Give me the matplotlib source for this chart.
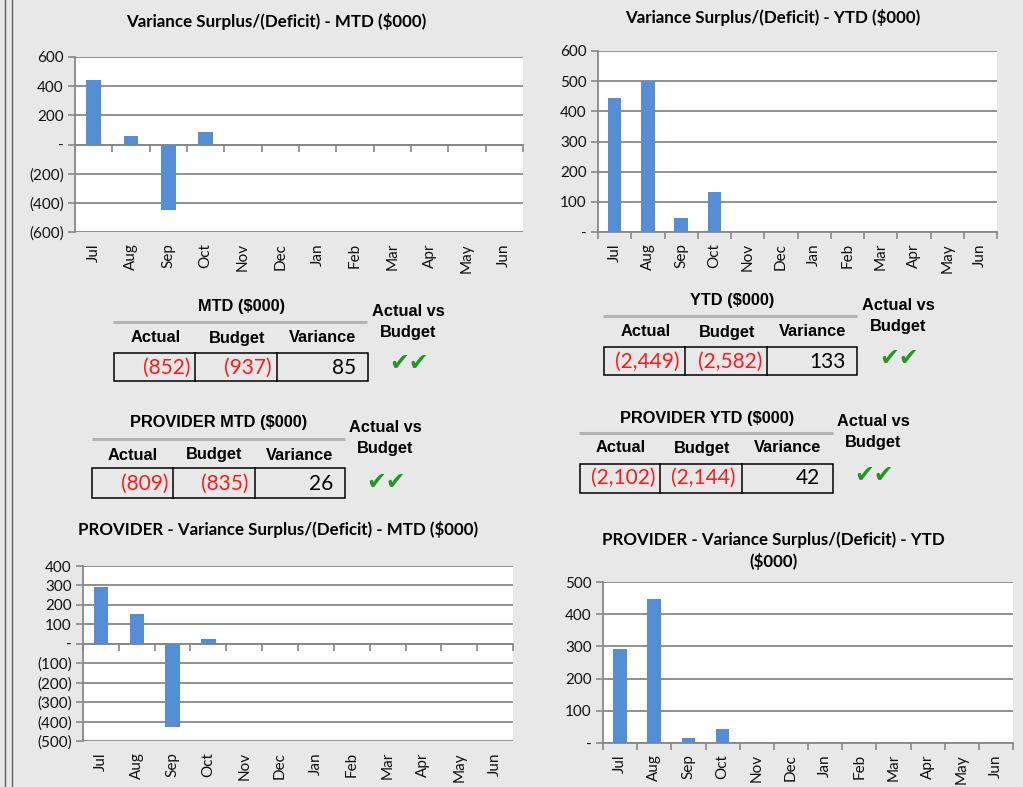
import matplotlib

matplotlib.use("Agg")
import matplotlib.pyplot as plt
from matplotlib.patches import Rectangle
from matplotlib.ticker import FuncFormatter, MultipleLocator

W, H = 1023, 787

MONTHS = ["Jul", "Aug", "Sep", "Oct", "Nov", "Dec", "Jan", "Feb", "Mar", "Apr", "May", "Jun"]

# variance surplus/(deficit) $000, only Jul-Oct reported so far
MTD_VAR = [445, 55, -452, 85]
YTD_VAR = [445, 500, 48, 133]
PROV_MTD_VAR = [291, 155, -430, 26]
PROV_YTD_VAR = [291, 446, 16, 42]

# summary tables: actual, budget, variance
MTD_TABLE = ["(852)", "(937)", "85"]
YTD_TABLE = ["(2,449)", "(2,582)", "133"]
PROV_MTD_TABLE = ["(809)", "(835)", "26"]
PROV_YTD_TABLE = ["(2,102)", "(2,144)", "42"]
TABLE_COLS = ["Actual", "Budget", "Variance"]

BG = "#e8e8e8"
BAR = "#558ed5"
GRID = "#888888"
CHART_FONT = "Lato"
TABLE_FONT = "Liberation Sans"


def px_rect(x0, y0, x1, y1):
    return [x0 / W, 1 - y1 / H, (x1 - x0) / W, (y1 - y0) / H]


def fmt_acct(v, _pos=None):
    if abs(v) < 1e-9:
        return "-"
    if v < 0:
        return f"({abs(v):,.0f})"
    return f"{v:,.0f}"


def bar_chart(fig, rect, values, ymin, ymax, step):
    ax = fig.add_axes(px_rect(*rect))
    ax.set_facecolor("white")
    ax.bar(range(len(values)), values, width=0.4, color=BAR, zorder=3)
    ax.set_xlim(-0.5, len(MONTHS) - 0.5)
    ax.set_ylim(ymin, ymax)
    ax.yaxis.set_major_locator(MultipleLocator(step))
    ax.yaxis.set_major_formatter(FuncFormatter(fmt_acct))
    ax.grid(axis="y", color=GRID, lw=1.3, zorder=1)
    for s in ("top", "right"):
        ax.spines[s].set_visible(False)
    ax.spines["left"].set_color(GRID)
    ax.spines["left"].set_linewidth(1.3)
    ax.spines["bottom"].set_color(GRID)
    ax.spines["bottom"].set_linewidth(1.3)
    ax.spines["bottom"].set_position(("data", 0))
    # category boundary ticks on the zero line
    ax.set_xticks([i - 0.5 for i in range(len(MONTHS) + 1)])
    ax.set_xticklabels([])
    ax.tick_params(axis="x", length=5, color=GRID, width=1.2, direction="out")
    ax.tick_params(axis="y", length=5, color=GRID, width=1.2, pad=3,
                   labelsize=11, labelcolor="#111111")
    for t in ax.get_yticklabels():
        t.set_family(CHART_FONT)
    sec = ax.secondary_xaxis("bottom")
    sec.set_xticks(range(len(MONTHS)))
    sec.set_xticklabels(MONTHS, rotation=90, family=CHART_FONT, fontsize=11, color="#111111")
    sec.tick_params(length=0, pad=8)
    sec.spines["bottom"].set_visible(False)
    return ax


def summary_table(ax, title, values, title_xy, line_x, line_y, hdr_y, hdr_x, box, divs, val_right, val_y,
                  avb_x, avb_y, chk_xy):
    hkw = dict(ha="center", va="center", family=TABLE_FONT, fontweight="bold", fontsize=11.8)
    ax.text(title_xy[0], title_xy[1], title, **hkw)
    ax.plot(line_x, [line_y, line_y], color="#b4b4b4", lw=2.2, solid_capstyle="butt")
    for lab, x in zip(TABLE_COLS, hdr_x):
        ax.text(x, hdr_y, lab, **hkw)
    x0, y0, x1, y1 = box
    ax.add_patch(Rectangle((x0, y0), x1 - x0, y1 - y0, fill=False, ec="black", lw=1.1))
    for d in divs:
        ax.plot([d, d], [y0, y1], color="black", lw=1.1)
    for v, xr in zip(values, val_right):
        ax.text(xr, val_y, v, ha="right", va="center", family=CHART_FONT, fontsize=15,
                color="#ff1a1a" if v.startswith("(") else "black")
    ax.text(avb_x, avb_y[0], "Actual vs", **hkw)
    ax.text(avb_x, avb_y[1], "Budget", **hkw)
    ax.text(chk_xy[0], chk_xy[1], "\u2714\u2714", ha="center", va="center", family="DejaVu Sans",
            fontsize=17, color="#1f9a1f")


def main():
    fig = plt.figure(figsize=(W / 100, H / 100), dpi=100, facecolor=BG)

    bg = fig.add_axes([0, 0, 1, 1])
    bg.set_xlim(0, W)
    bg.set_ylim(H, 0)
    bg.axis("off")
    bg.plot([5, 5], [0, H], color="#606060", lw=1)
    bg.plot([12, 12], [0, H], color="#606060", lw=1)

    # charts
    bar_chart(fig, (75, 57, 523, 232), MTD_VAR, -600, 600, 200)
    bar_chart(fig, (598, 51, 997, 232), YTD_VAR, 0, 600, 100)
    bar_chart(fig, (83, 566, 513, 741), PROV_MTD_VAR, -500, 400, 100)
    bar_chart(fig, (603, 582, 1013, 743), PROV_YTD_VAR, 0, 500, 100)

    tkw = dict(ha="center", va="center", family=CHART_FONT, fontweight="bold", fontsize=12.2)
    bg.text(276, 21, "Variance Surplus/(Deficit) - MTD ($000)", **tkw)
    bg.text(773, 17, "Variance Surplus/(Deficit) - YTD ($000)", **tkw)
    bg.text(278, 530, "PROVIDER - Variance Surplus/(Deficit) - MTD ($000)", **tkw)
    bg.text(773, 540, "PROVIDER - Variance Surplus/(Deficit) - YTD", **tkw)
    bg.text(773, 562, "($000)", **tkw)

    summary_table(bg, "MTD ($000)", MTD_TABLE, (242, 307), [113, 367], 322, 338, [156, 237, 323],
                  (114, 353, 368, 381), [195, 277], [191, 272, 356], 368, 408, (312, 333), (409, 363))
    summary_table(bg, "YTD ($000)", YTD_TABLE, (732, 301), [603, 857], 316, 332, [646, 727, 813],
                  (604, 347, 857, 375), [685, 767], [680, 762, 846], 362, 898, (306, 327), (899, 358))
    summary_table(bg, "PROVIDER MTD ($000)", PROV_MTD_TABLE, (219, 423), [92, 345], 439, 455, [133, 214, 300],
                  (92, 468, 345, 498), [173, 255], [168, 248, 333], 484, 385, (428, 449), (386, 482))
    summary_table(bg, "PROVIDER YTD ($000)", PROV_YTD_TABLE, (707, 418), [579, 833], 433, 448, [621, 702, 788],
                  (580, 464, 833, 493), [660, 742], [656, 736, 820], 478, 873, (422, 443), (874, 475))

    fig.savefig("out.png", dpi=100, facecolor=BG)
    plt.close(fig)


if __name__ == "__main__":
    main()
